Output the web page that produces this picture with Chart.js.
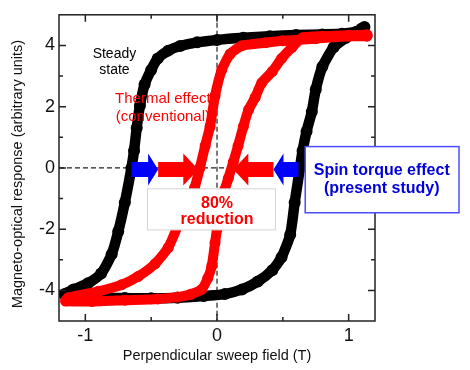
<!DOCTYPE html>
<html>
<head>
<meta charset="utf-8">
<script src="https://cdn.jsdelivr.net/npm/chart.js@4.4.1/dist/chart.umd.min.js"></script>
<style>
  body { margin: 0; background: #fff; }
</style>
</head>
<body>
<canvas id="loopChart" width="470" height="370"></canvas>
<script>
// steady state loop (black), read around the loop
const steadyField = [1.12, 1.06, 0.95, 0.8, 0.6, 0.4, 0.2, 0.0, -0.15, -0.28, -0.37, -0.45, -0.5, -0.55, -0.585, -0.61, -0.63, -0.65, -0.7, -0.75, -0.8, -0.88, -0.98, -1.09, -1.16,
    -1.05, -0.9, -0.7, -0.5, -0.3, -0.1, 0.06, 0.19, 0.31, 0.42, 0.49, 0.556, 0.59, 0.63, 0.65, 0.68, 0.72, 0.75, 0.8, 0.886, 0.98, 1.1];
const steadyResponse = [4.6, 4.45, 4.38, 4.36, 4.34, 4.3, 4.25, 4.18, 4.1, 3.98, 3.83, 3.57, 3.2, 2.72, 2.04, 1.3, 0.56, 0.0, -1.13, -2.08, -2.82, -3.45, -3.77, -3.97, -4.13,
    -4.22, -4.24, -4.25, -4.26, -4.24, -4.18, -4.12, -3.97, -3.71, -3.34, -2.92, -2.18, -1.13, 0.0, 0.56, 1.19, 1.83, 2.56, 3.3, 3.94, 4.25, 4.55];

// thermal effect loop (red)
const thermalField = [1.14, 1.0, 0.75, 0.5, 0.37, 0.19, 0.1, 0.036, -0.015, -0.053, -0.09, -0.13, -0.17, -0.22, -0.295, -0.37, -0.47, -0.6, -0.726, -0.9, -1.13,
    -1.15, -0.95, -0.7, -0.45, -0.3, -0.2, -0.117, -0.07, -0.04, -0.015, 0.0, 0.03, 0.06, 0.086, 0.124, 0.16, 0.2, 0.24, 0.29, 0.34, 0.42, 0.49, 0.57, 0.65, 0.8, 1.0, 1.14];
const thermalResponse = [4.3, 4.3, 4.22, 4.15, 4.09, 3.99, 3.72, 3.2, 2.35, 1.35, 0.72, 0.0, -0.65, -1.2, -1.87, -2.6, -3.13, -3.55, -3.82, -4.03, -4.24,
    -4.35, -4.36, -4.32, -4.28, -4.22, -4.13, -3.97, -3.6, -3.2, -2.45, -2.0, -1.2, -0.7, -0.34, 0.19, 0.72, 1.35, 1.9, 2.3, 2.78, 3.15, 3.57, 3.94, 4.25, 4.3, 4.33, 4.35];

const xTicks = [-1, 0, 1];
const xMinorTicks = [-0.5, 0.5];
const yTicks = [-4, -2, 0, 2, 4];
const yMinorTicks = [-3, -1, 1, 3];

// arrows along the zero line (start field -> tip field)
const arrowFrom = [-0.650, -0.447, 0.429, 0.619];
const arrowTo = [-0.447, -0.142, 0.124, 0.429];
const arrowColor = ['#0000ff', '#ff0000', '#ff0000', '#0000ff'];
const arrowHead = [10, 15, 15, 10];

const toPoints = (xs, ys) => xs.map((v, i) => ({x: v, y: ys[i]}));

function drawArrow(ctx, x1, x2, yc, head, color) {
    const dir = x2 > x1 ? 1 : -1;
    const hb = x2 - dir * head;
    ctx.fillStyle = color;
    ctx.beginPath();
    ctx.moveTo(x1, yc - 7.5);
    ctx.lineTo(hb, yc - 7.5);
    ctx.lineTo(hb, yc - 16);
    ctx.lineTo(x2, yc);
    ctx.lineTo(hb, yc + 16);
    ctx.lineTo(hb, yc + 7.5);
    ctx.lineTo(x1, yc + 7.5);
    ctx.closePath();
    ctx.fill();
}

const decorPlugin = {
    id: 'decor',
    beforeDatasetsDraw(chart) {
        const {ctx, chartArea: a, scales: {x, y}} = chart;
        const x0 = x.getPixelForValue(0), y0 = y.getPixelForValue(0);
        ctx.save();
        ctx.strokeStyle = '#222';
        ctx.lineWidth = 1.2;
        ctx.setLineDash([5, 3]);
        ctx.beginPath();
        ctx.moveTo(x0, a.top); ctx.lineTo(x0, a.bottom);
        ctx.moveTo(a.left, y0); ctx.lineTo(a.right, y0);
        ctx.stroke();
        ctx.restore();
    },
    afterDatasetsDraw(chart) {
        const {ctx, chartArea: a, scales: {x, y}} = chart;
        ctx.save();

        // frame + inside ticks on all four sides
        ctx.strokeStyle = '#222';
        ctx.lineWidth = 1.5;
        ctx.strokeRect(a.left, a.top, a.right - a.left, a.bottom - a.top);
        ctx.beginPath();
        const tickX = (v, len) => {
            const p = x.getPixelForValue(v);
            ctx.moveTo(p, a.bottom); ctx.lineTo(p, a.bottom - len);
            ctx.moveTo(p, a.top); ctx.lineTo(p, a.top + len);
        };
        const tickY = (v, len) => {
            const p = y.getPixelForValue(v);
            ctx.moveTo(a.left, p); ctx.lineTo(a.left + len, p);
            ctx.moveTo(a.right, p); ctx.lineTo(a.right - len, p);
        };
        xTicks.forEach(v => tickX(v, 7));
        xMinorTicks.forEach(v => tickX(v, 4));
        yTicks.forEach(v => tickY(v, 7));
        yMinorTicks.forEach(v => tickY(v, 4));
        ctx.stroke();

        // arrows
        const ya = y.getPixelForValue(-0.05);
        arrowFrom.forEach((f, i) => {
            drawArrow(ctx, x.getPixelForValue(f), x.getPixelForValue(arrowTo[i]), ya, arrowHead[i], arrowColor[i]);
        });

        // 80% reduction box
        let l = x.getPixelForValue(-0.528), t = y.getPixelForValue(-0.684);
        let r = x.getPixelForValue(0.444), b = y.getPixelForValue(-2.025);
        ctx.fillStyle = '#fff';
        ctx.fillRect(l, t, r - l, b - t);
        ctx.strokeStyle = '#d4d4d4';
        ctx.lineWidth = 1;
        ctx.strokeRect(l, t, r - l, b - t);
        ctx.fillStyle = '#ff0000';
        ctx.font = 'bold 16px "Liberation Sans", Arial, sans-serif';
        ctx.textAlign = 'center';
        ctx.textBaseline = 'middle';
        ctx.fillText('80%', x.getPixelForValue(0), y.getPixelForValue(-1.15));
        ctx.fillText('reduction', x.getPixelForValue(0), y.getPixelForValue(-1.69));

        // spin torque box
        l = x.getPixelForValue(0.670); t = y.getPixelForValue(0.696);
        r = x.getPixelForValue(1.838); b = y.getPixelForValue(-1.465);
        ctx.fillStyle = '#fff';
        ctx.fillRect(l, t, r - l, b - t);
        ctx.strokeStyle = '#4d4dff';
        ctx.lineWidth = 1.5;
        ctx.strokeRect(l, t, r - l, b - t);
        ctx.fillStyle = '#0000dd';
        ctx.fillText('Spin torque effect', x.getPixelForValue(1.251), y.getPixelForValue(-0.10));
        ctx.fillText('(present study)', x.getPixelForValue(1.251), y.getPixelForValue(-0.67));

        // curve labels
        ctx.fillStyle = '#000';
        ctx.font = '14px "Liberation Sans", Arial, sans-serif';
        ctx.fillText('Steady', x.getPixelForValue(-0.779), y.getPixelForValue(3.71));
        ctx.fillText('state', x.getPixelForValue(-0.779), y.getPixelForValue(3.19));
        ctx.fillStyle = '#ff0000';
        ctx.font = '15px "Liberation Sans", Arial, sans-serif';
        ctx.fillText('Thermal effect', x.getPixelForValue(-0.411), y.getPixelForValue(2.25));
        ctx.fillText('(conventional)', x.getPixelForValue(-0.411), y.getPixelForValue(1.67));

        // y axis title
        ctx.fillStyle = '#111';
        ctx.font = '14.5px "Liberation Sans", Arial, sans-serif';
        ctx.translate(18, 174);
        ctx.rotate(-Math.PI / 2);
        ctx.fillText('Magneto-optical response (arbitrary units)', 0, 0);
        ctx.restore();
    }
};

new Chart(document.getElementById('loopChart'), {
    type: 'scatter',
    data: {
        datasets: [
            {
                label: 'Thermal effect (conventional)',
                data: toPoints(thermalField, thermalResponse),
                showLine: true,
                borderColor: '#ff0000',
                backgroundColor: '#ff0000',
                borderWidth: 10,
                pointRadius: 5.5,
                pointBorderWidth: 0,
                tension: 0.2,
                borderJoinStyle: 'round',
                borderCapStyle: 'round'
            },
            {
                label: 'Steady state',
                data: toPoints(steadyField, steadyResponse),
                showLine: true,
                borderColor: '#000',
                backgroundColor: '#000',
                borderWidth: 10.5,
                pointRadius: 6,
                pointBorderWidth: 0,
                tension: 0.2,
                borderJoinStyle: 'round',
                borderCapStyle: 'round'
            }
        ]
    },
    options: {
        responsive: false,
        animation: false,
        layout: {padding: {top: 5, right: 95, left: 0, bottom: 0}},
        plugins: {legend: {display: false}, tooltip: {enabled: false}},
        scales: {
            x: {
                type: 'linear',
                min: -1.2,
                max: 1.2,
                afterBuildTicks: s => { s.ticks = xTicks.map(v => ({value: v})); },
                afterFit: s => { s.height = 49; },
                grid: {display: false, drawTicks: false},
                border: {display: false},
                ticks: {padding: 4, color: '#111', font: {family: '"Liberation Sans", Arial, sans-serif', size: 18}},
                title: {
                    display: true,
                    text: 'Perpendicular sweep field (T)',
                    color: '#111',
                    padding: {top: 0, bottom: 5},
                    font: {family: '"Liberation Sans", Arial, sans-serif', size: 14.5}
                }
            },
            y: {
                type: 'linear',
                min: -5,
                max: 5,
                afterBuildTicks: s => { s.ticks = yTicks.map(v => ({value: v})); },
                afterFit: s => { s.width = 59; },
                grid: {display: false, drawTicks: false},
                border: {display: false},
                ticks: {padding: 4, color: '#111', font: {family: '"Liberation Sans", Arial, sans-serif', size: 18}}
            }
        }
    },
    plugins: [decorPlugin]
});
</script>
</body>
</html>
